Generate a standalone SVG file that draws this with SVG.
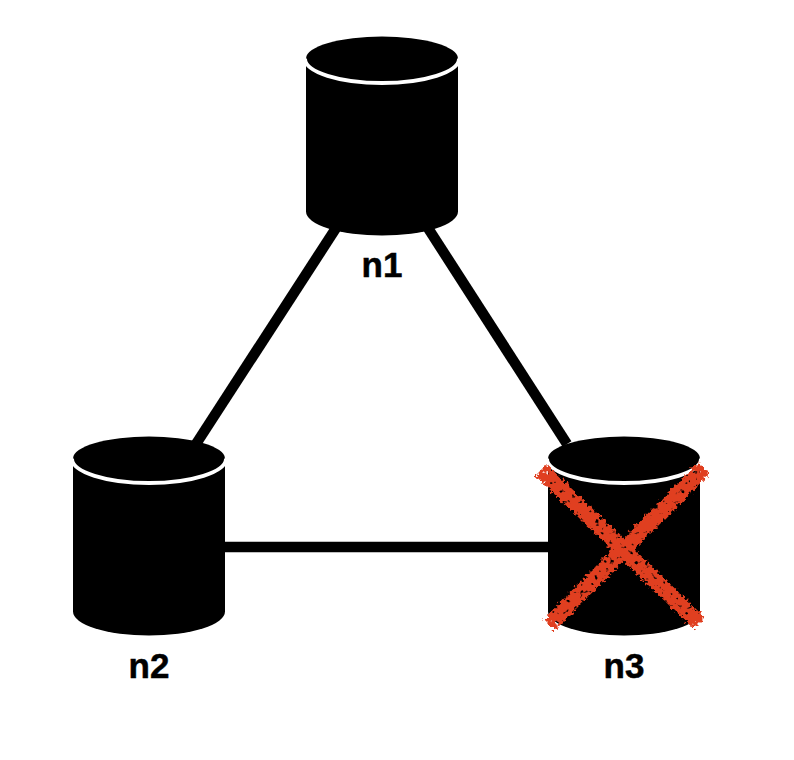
<svg xmlns="http://www.w3.org/2000/svg" width="794" height="760" viewBox="0 0 794 760">
<style>
.edge{stroke:#000;stroke-width:10.5;fill:none}
.body{fill:#000}
.rim{fill:none;stroke:#fff;stroke-width:3.8}
.label{font-family:"Liberation Sans",Arial,sans-serif;font-weight:700;font-size:35px;text-anchor:middle;fill:#000;stroke:#000;stroke-width:.5}
.cross{stroke:#e03f20;stroke-width:16;fill:none;stroke-linecap:butt}
</style>
<defs>
<g id="cyl">
<path class="body" d="M0 22V175A76 24 0 0 0 152 175V22Z"/>
<ellipse class="body" cx="76" cy="22" rx="76" ry="22"/>
<path class="rim" d="M-1 22A77 24.5 0 0 0 153 22"/>
</g>
<filter id="rough" x="-10%" y="-10%" width="120%" height="120%" color-interpolation-filters="sRGB">
<feTurbulence type="fractalNoise" baseFrequency="0.3" numOctaves="2" seed="4" result="n"/>
<feDisplacementMap in="SourceGraphic" in2="n" scale="8" xChannelSelector="R" yChannelSelector="G" result="d"/>
<feTurbulence type="fractalNoise" baseFrequency="0.2" numOctaves="2" seed="11"/>
<feColorMatrix type="matrix" values="0 0 0 0 0 0 0 0 0 0 0 0 0 0 0 7 0 0 0 -1.5" result="holes"/>
<feComposite in="d" in2="holes" operator="in"/>
</filter>
</defs>
<g id="connectors">
<line class="edge" x1="338" y1="225" x2="196" y2="444"/>
<line class="edge" x1="426" y1="225" x2="567" y2="444"/>
<line class="edge" x1="220" y1="547" x2="555" y2="547"/>
</g>
<g id="n1"><use href="#cyl" x="306" y="36.5"/><text class="label" x="382" y="276.5">n1</text></g>
<g id="n2"><use href="#cyl" x="73" y="436.5"/><text class="label" x="149" y="677.5">n2</text></g>
<g id="n3"><use href="#cyl" x="548" y="436.5"/><text class="label" x="624" y="677.5">n3</text></g>
<g id="cross" filter="url(#rough)">
<line class="cross" x1="541" y1="470" x2="699" y2="623"/>
<line class="cross" x1="704" y1="468" x2="549" y2="625"/>
</g>
</svg>
